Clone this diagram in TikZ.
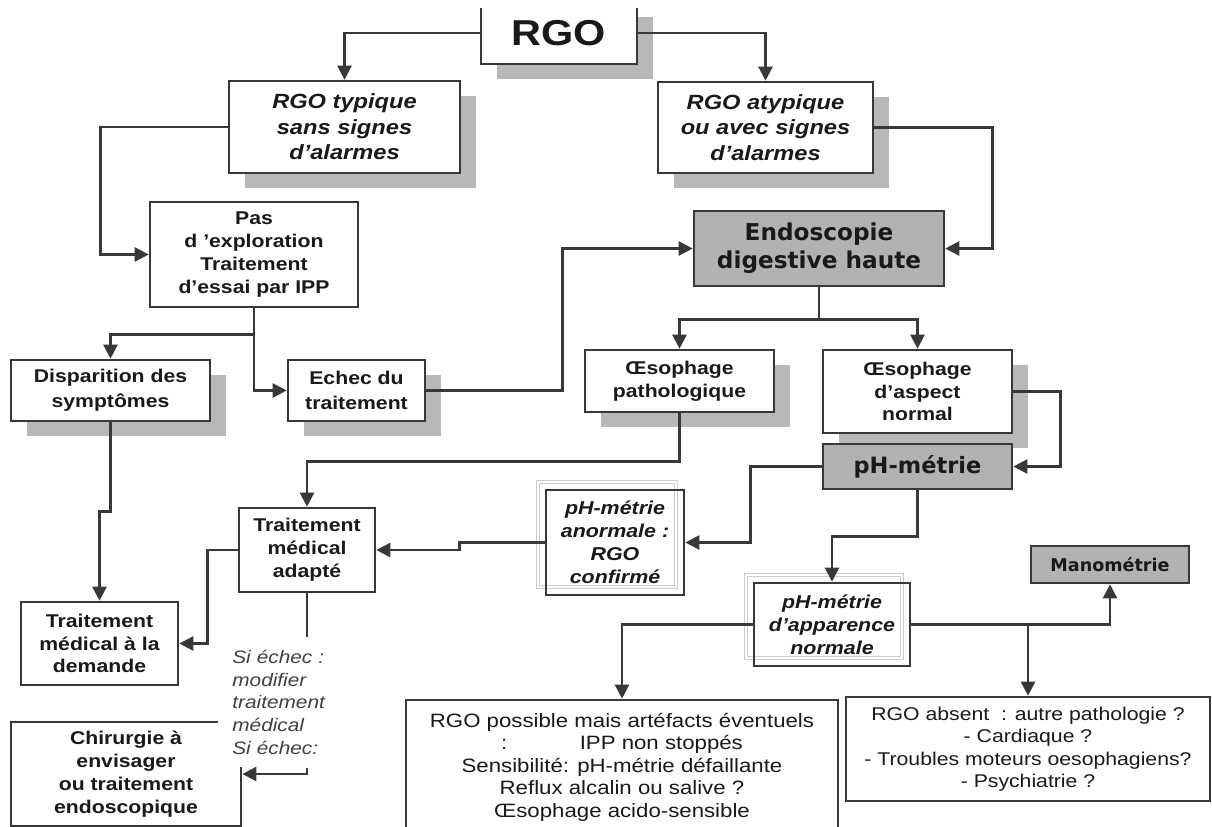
\documentclass[tikz,border=0pt]{standalone}
\usepackage{fontspec}
\usepackage{tikz}
\usetikzlibrary{arrows.meta,shadows}
\newfontfamily\arialfont{Liberation Sans}[FakeStretch=1.15]
\newfontfamily\tahomafont{DejaVu Sans}

\begin{document}
\begin{tikzpicture}[x=0.02cm,y=-0.02cm,
  box/.style={draw=black!78,line width=1.5pt,fill=white,inner sep=0pt,align=center,text=black!90},
  graybox/.style={box,fill=black!30},
  shadowed/.style={drop shadow={shadow xshift=0.32cm,shadow yshift=-0.3cm,fill=black!28,opacity=1}},
  framed/.style={fill=none,drop shadow={shadow xshift=-0.16cm,shadow yshift=0.16cm,fill=none,draw=black!20,
    line width=0.5pt,double=white,double distance=1pt,opacity=1}},
  boldtxt/.style={font={\arialfont\bfseries\fontsize{10.5}{13}\selectfont}},
  itxt/.style={font={\arialfont\bfseries\itshape\fontsize{#1}{13}\selectfont}},
  tahtxt/.style={font={\tahomafont\bfseries\fontsize{#1}{16}\selectfont}},
  plaintxt/.style={font={\arialfont\fontsize{#1}{12.8}\selectfont}},
  link/.style={draw=black!78,line width=1.4pt},
  arr/.style={link,-{Triangle[length=8pt,width=8pt]}}]
\useasboundingbox (0,0) rectangle (1212,827);
\clip (0,9) rectangle (1212,827);

% top of the tree
\node[box,shadowed,minimum width=3.12cm,minimum height=1.24cm,
  font={\arialfont\bfseries\fontsize{20.5}{24}\selectfont}] (rgo) at (559,33) {RGO};
\node[box,shadowed,minimum width=4.62cm,minimum height=1.84cm,
  font={\arialfont\bfseries\itshape\fontsize{11.7}{14.5}\selectfont}] (typ) at (344.5,127)
  {RGO typique\\sans signes\\d’alarmes};
\node[box,shadowed,minimum width=4.3cm,minimum height=1.82cm,
  font={\arialfont\bfseries\itshape\fontsize{11.7}{14.5}\selectfont}] (atyp) at (765.5,127.5)
  {RGO atypique\\ou avec signes\\d’alarmes};

% left branch
\node[box,boldtxt,minimum width=4.16cm,minimum height=2.1cm] (pas) at (254,254.5)
  {Pas\\d ’exploration\\Traitement\\d’essai par IPP};
\node[box,shadowed,boldtxt,minimum width=3.98cm,minimum height=1.22cm,
  font={\arialfont\bfseries\fontsize{10.5}{14}\selectfont}] (disp) at (110.5,390.5)
  {Disparition des\\symptômes};
\node[box,shadowed,boldtxt,minimum width=2.74cm,minimum height=1.22cm,
  font={\arialfont\bfseries\fontsize{10.5}{14}\selectfont}] (echec) at (356.5,390.5)
  {Echec du\\traitement};
\node[box,boldtxt,minimum width=2.72cm,minimum height=1.68cm] (adapte) at (307,550)
  {Traitement\\médical\\adapté};
\node[box,boldtxt,minimum width=3.14cm,minimum height=1.66cm] (demande) at (99.5,643.5)
  {Traitement\\médical à la\\demande};
\node[box,boldtxt,minimum width=4.6cm,minimum height=2.08cm] (chir) at (126,774)
  {Chirurgie à\\envisager\\ou traitement\\endoscopique};
\node[fill=white,anchor=north west,inner xsep=0.28cm,inner ysep=0pt,text width=2cm,
  minimum height=2.6cm,align=left,text=black!75,
  font={\arialfont\itshape\fontsize{10.3}{13}\selectfont}] (sinon) at (218,637)
  {Si échec :\\modifier\\traitement\\médical\\Si échec:};

% right branch
\node[graybox,tahtxt=13.2,minimum width=5cm,minimum height=1.5cm] (endo) at (819,248.5)
  {Endoscopie\\digestive haute};
\node[box,shadowed,boldtxt,minimum width=3.78cm,minimum height=1.24cm] (oepath) at (679.5,381)
  {Œsophage\\pathologique};
\node[box,shadowed,boldtxt,minimum width=3.78cm,minimum height=1.66cm] (oenorm) at (917.5,391.5)
  {Œsophage\\d’aspect\\normal};
\node[graybox,tahtxt=12.8,minimum width=3.78cm,minimum height=0.9cm] (ph) at (917.5,466.5)
  {pH-métrie};
\node[box,framed,itxt=10.6,minimum width=2.76cm,minimum height=2.1cm] (phanorm) at (615,542.5)
  {pH-métrie\\anormale :\\RGO\\confirmé};
\node[box,framed,itxt=10.6,minimum width=3.12cm,minimum height=1.66cm] (phnorm) at (832,624.5)
  {pH-métrie\\d’apparence\\normale};
\node[graybox,tahtxt=10,minimum width=3.16cm,minimum height=0.74cm] (mano) at (1110,564.5)
  {Manométrie};
\node[box,plaintxt=11,minimum width=8.64cm,minimum height=2.68cm] (possible) at (622,767)
  {RGO possible mais artéfacts éventuels\\:\hspace{1.45cm}IPP non stoppés\\
   Sensibilité: pH-métrie défaillante\\Reflux alcalin ou salive ?\\Œsophage acido-sensible};
\node[box,plaintxt=10.5,minimum width=7.28cm,minimum height=2.08cm] (absent) at (1028,749)
  {RGO absent~ : autre pathologie ?\\- Cardiaque ?\\- Troubles moteurs oesophagiens?\\- Psychiatrie ?};

% Connections
\draw[arr] (rgo.west) -| (typ.north);
\draw[arr] (rgo.east) -| (atyp.north);
\draw[arr] (typ.west) -- ++(-127,0) |- (pas.west);
\draw[arr] (atyp.east) -- ++(118,0) |- (endo.east);
\draw[arr] (pas.south) -- ++(0,26) -| (disp.north);
\draw[arr] (pas.south) |- (echec.west);
\draw[arr] (echec.east) -- ++(136,0) |- (endo.west);
\draw[arr] (endo.south) -- ++(0,32) -| (oepath.north);
\draw[arr] (endo.south) -- ++(0,32) -| (oenorm.north);
\draw[arr] (oenorm.east) -- ++(47,0) |- (ph.east);
\draw[arr] (oepath.south) -- ++(0,48) -| (adapte.north);
\draw[arr] (ph.west) -- ++(-71,0) |- (phanorm.east);
\draw[arr] (ph.south) -- ++(0,46) -| (phnorm.north);
\draw[arr] (phanorm.west) -- ++(-85,0) |- (adapte.east);
\draw[arr] (adapte.west) -- ++(-30,0) |- (demande.east);
\draw[arr] (disp.south) -- ++(0,89) -| (demande.north);
\draw[link] (adapte.south) -- (adapte.south |- sinon.north);
\draw[arr] (adapte.south |- sinon.south) |- (chir.east);
\draw[arr] (phnorm.west) -| (possible.north);
\draw[arr] (phnorm.east) -| (mano.south);
\draw[arr] (absent.north |- phnorm.east) -- (absent.north);
\end{tikzpicture}
\end{document}
